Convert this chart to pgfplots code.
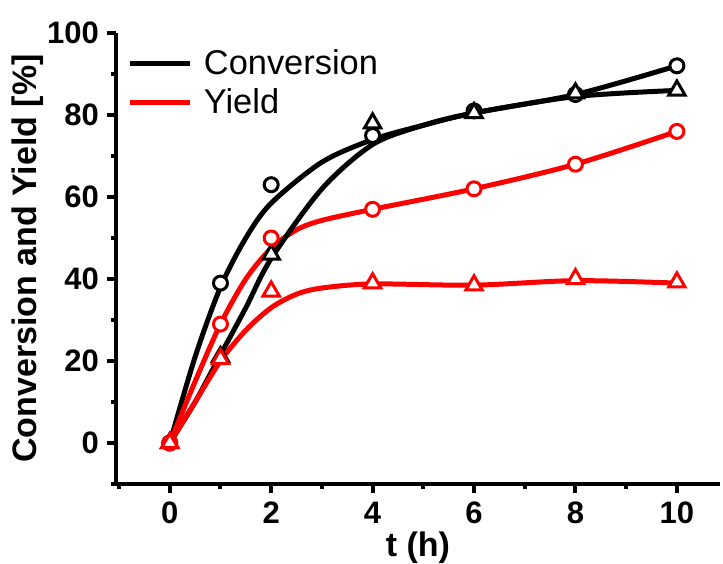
\documentclass[border=0pt]{standalone}
\usepackage{pgfplots}
\pgfplotsset{compat=1.18}
\usepackage{fontspec}
\setmainfont{Liberation Sans}
\begin{document}
\begin{tikzpicture}
\useasboundingbox (-58pt,-39.5pt) rectangle (303.5pt,242pt);
\begin{axis}[
  at={(0,0)}, anchor=south west,
  scale only axis, width=302pt, height=225.5pt,
  xmin=-1.06, xmax=10.85, ymin=-10, ymax=100,
  axis x line*=bottom, axis y line*=left,
  axis line style={line width=2.4pt, -},
  xtick={0,2,...,10}, ytick={0,20,...,100},
  minor xtick={-1,1,3,5,7,9}, minor ytick={-10,10,30,50,70,90},
  tick align=outside,
  major tick length=4.5pt, minor tick length=2.5pt,
  every tick/.style={line width=2pt, black},
  /pgf/number format/assume math mode=true,
  ticklabel style={font=\bfseries\fontsize{15.5}{17}\selectfont},
  xticklabel style={yshift=-1pt},
  yticklabel style={xshift=-0.5pt},
  xlabel={t (h)}, ylabel={Conversion and Yield [\%]},
  label style={font=\bfseries\fontsize{17}{19}\selectfont},
  xlabel style={yshift=3pt},
  ylabel style={yshift=-5pt},
  legend style={at={(0.009,0.982)}, anchor=north west, draw=none, fill=none,
    font=\fontsize{17.2}{19}\selectfont, row sep=1.5pt},
  legend cell align=left,
  legend image code/.code={\draw[#1, line width=2.6pt] (0pt,0pt) -- (30pt,0pt); \path (33.5pt,0pt);},
]
% fitted curves
\addplot[black, line width=2.5pt, smooth, tension=0.5] coordinates {
(0,0)(0.5,21)(1,38)(1.5,50)(2,58.5)(3,68.5)(4,74)(5,77.5)(6,80.5)(8,85)(10,92)};
\addlegendentry{Conversion}
\addplot[red, line width=2.5pt, smooth, tension=0.5] coordinates {
(0,0)(0.5,15)(1,29)(1.5,40)(2,47.5)(2.5,52)(3,54.3)(4,57)(6,62)(8,68)(10,76)};
\addlegendentry{Yield}
\addplot[black, line width=2.5pt, smooth, tension=0.5, forget plot] coordinates {
(0,0)(0.5,10)(1,21.5)(1.5,33)(2,45)(3,62)(4,72.8)(5,77.5)(6,80.5)(8,84.5)(10,86)};
\addplot[red, line width=2.5pt, smooth, tension=0.5, forget plot] coordinates {
(0,0)(0.5,10)(1,20)(1.5,27.5)(2,33)(2.5,36.3)(3,37.8)(4,38.8)(6,38.5)(8,39.6)(10,39)};
% data markers
\addplot[only marks, forget plot, mark=*, mark size=3.5pt,
  mark options={draw=black, fill=white, line width=1.5pt}] coordinates {
(0,0)(1,39)(2,63)(4,75)(6,81)(8,85)(10,92)};
\addplot[only marks, forget plot, mark=triangle*, mark size=4.7pt,
  mark options={draw=black, fill=white, line width=1.5pt}] coordinates {
(0,0)(1,21)(2,46)(4,78)(6,80.5)(8,85.3)(10,86)};
\addplot[only marks, forget plot, mark=*, mark size=3.5pt,
  mark options={draw=red, fill=white, line width=1.5pt}] coordinates {
(0,0)(1,29)(2,50)(4,57)(6,62)(8,68)(10,76)};
\addplot[only marks, forget plot, mark=triangle*, mark size=4.7pt,
  mark options={draw=red, fill=white, line width=1.5pt}] coordinates {
(0,0)(1,20.5)(2,37)(4,39)(6,38.5)(8,40)(10,39.2)};
\end{axis}
\end{tikzpicture}
\end{document}
